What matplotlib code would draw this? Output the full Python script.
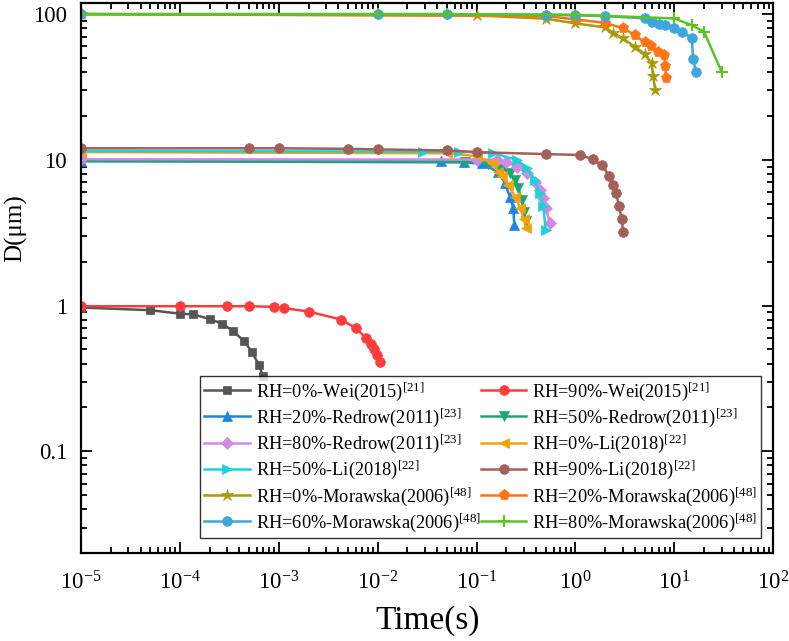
import matplotlib
matplotlib.use("Agg")
import matplotlib.pyplot as plt
from matplotlib.ticker import LogLocator, FuncFormatter, NullFormatter
import numpy as np

plt.rcParams['font.family'] = ['Liberation Serif', 'DejaVu Serif']
plt.rcParams['mathtext.fontset'] = 'custom'
plt.rcParams['mathtext.rm'] = 'Liberation Serif'
plt.rcParams['mathtext.it'] = 'Liberation Serif:italic'
plt.rcParams['mathtext.bf'] = 'Liberation Serif:bold'
plt.rcParams['axes.unicode_minus'] = False

# data (time in s, diameter in um)
wei0_t = [1e-5, 5e-5, 1e-4, 1.35e-4, 2e-4, 2.67e-4, 3.44e-4, 4.45e-4, 5.36e-4, 6.3e-4, 6.9e-4]
wei0_d = [0.97, 0.93, 0.88, 0.87, 0.81, 0.75, 0.67, 0.57, 0.48, 0.39, 0.33]

wei90_t = [1e-5, 1e-4, 3e-4, 5e-4, 9e-4, 1.13e-3, 2e-3, 4.3e-3, 6e-3, 7.6e-3, 8.5e-3, 9.2e-3, 9.9e-3, 1.05e-2]
wei90_d = [0.99, 0.99, 0.99, 0.99, 0.98, 0.96, 0.91, 0.80, 0.70, 0.60, 0.545, 0.50, 0.455, 0.41]

red20_t = [1e-5, 0.044, 0.075, 0.113, 0.166, 0.194, 0.218, 0.235, 0.241]
red20_d = [9.8, 9.8, 9.7, 9.5, 8.2, 6.9, 5.55, 4.67, 3.6]

red50_t = [1e-5, 0.076, 0.13, 0.18, 0.22, 0.245, 0.265, 0.286, 0.302, 0.316]
red50_d = [9.8, 9.6, 9.3, 8.7, 8.1, 7.3, 6.4, 5.3, 4.4, 3.8]

red80_t = [1e-5, 0.1, 0.16, 0.2, 0.254, 0.321, 0.389, 0.436, 0.473, 0.5, 0.552]
red80_d = [10.1, 10.05, 10.0, 9.6, 9.0, 8.1, 7.1, 6.2, 5.5, 4.7, 3.7]

li0_t = [1e-5, 0.05, 0.1, 0.142, 0.166, 0.179, 0.209, 0.245, 0.275, 0.302, 0.316]
li0_d = [11.3, 11.1, 10.6, 9.5, 8.3, 7.7, 6.7, 5.6, 4.7, 3.9, 3.4]

li50_t = [1e-5, 0.029, 0.066, 0.148, 0.254, 0.321, 0.389, 0.436, 0.473, 0.5]
li50_d = [11.5, 11.4, 11.4, 11.1, 10.0, 8.8, 7.3, 5.9, 4.8, 3.3]

li90_t = [1e-5, 5e-4, 1e-3, 5e-3, 1e-2, 0.05, 0.1, 0.5, 1.1, 1.5, 1.84, 2.2, 2.41, 2.57, 2.77, 2.93, 3.04]
li90_d = [12.0, 12.0, 12.0, 11.9, 11.8, 11.6, 11.3, 10.95, 10.8, 10.1, 9.2, 7.8, 6.75, 5.9, 4.8, 3.9, 3.2]

mor0_t = [1e-5, 0.1, 0.5, 1, 2, 2.4, 3, 4, 5, 5.9, 6.1, 6.4]
mor0_d = [100, 98, 93, 86.4, 81, 74.5, 68.2, 59.7, 53.2, 45.9, 37.6, 30.2]

mor20_t = [1e-5, 0.5, 1, 2, 3, 4, 5, 5.8, 6.9, 7.85, 8.1, 8.2]
mor20_d = [100, 97, 92, 87, 80, 72, 64, 60.7, 55.2, 52.4, 44, 36.3]

mor60_t = [1e-5, 0.01, 0.05, 0.5, 1, 2, 5, 6, 7, 8, 10, 12, 15, 15.5, 16.5]
mor60_d = [100, 100, 100, 99, 98, 97, 93.4, 88.6, 85.4, 84, 79.8, 74.9, 68.8, 48.9, 40.3]

mor80_t = [1e-5, 0.01, 0.05, 1, 10, 15, 20, 30]
mor80_d = [100, 100, 100, 99, 93.4, 84, 75.6, 40.3]

labels = [
    'RH=0%-Wei(2015)$^{[21]}$', 'RH=90%-Wei(2015)$^{[21]}$',
    'RH=20%-Redrow(2011)$^{[23]}$', 'RH=50%-Redrow(2011)$^{[23]}$',
    'RH=80%-Redrow(2011)$^{[23]}$', 'RH=0%-Li(2018)$^{[22]}$',
    'RH=50%-Li(2018)$^{[22]}$', 'RH=90%-Li(2018)$^{[22]}$',
    'RH=0%-Morawska(2006)$^{[48]}$', 'RH=20%-Morawska(2006)$^{[48]}$',
    'RH=60%-Morawska(2006)$^{[48]}$', 'RH=80%-Morawska(2006)$^{[48]}$',
]
series = [(wei0_t, wei0_d), (wei90_t, wei90_d), (red20_t, red20_d), (red50_t, red50_d),
          (red80_t, red80_d), (li0_t, li0_d), (li50_t, li50_d), (li90_t, li90_d),
          (mor0_t, mor0_d), (mor20_t, mor20_d), (mor60_t, mor60_d), (mor80_t, mor80_d)]
colors = ['#555555', '#ff3c3c', '#1a86e6', '#1aa872', '#d08ae6', '#f2a20c',
          '#1cd2d8', '#a35f5a', '#a69b0a', '#ff7414', '#3fa6dc', '#5cc41e']
markers = ['s', 'o', '^', 'v', 'D', '<', '>', 'o', '*', 'p', 'o', '+']
msizes = [6, 7, 7, 7, 6, 7, 7, 7, 9, 8, 7, 9]

fig = plt.figure(figsize=(7.89, 6.41), dpi=100)
ax = fig.add_axes([0.1027, 0.137, 0.8773, 0.859])

handles = []
for (t, d), lab, c, m, ms in zip(series, labels, colors, markers, msizes):
    h, = ax.plot(t, d, color=c, marker=m, ms=ms, lw=1.8, label=lab,
                 markeredgewidth=1.5 if m == '+' else 0.5, markeredgecolor=c)
    handles.append(h)

ax.set_xscale('log')
ax.set_yscale('log')
ax.set_xlim(1e-5, 1e2)
ax.set_ylim(0.02, 120)

ax.xaxis.set_major_locator(LogLocator(base=10, numticks=20))
ax.xaxis.set_minor_locator(LogLocator(base=10, subs=np.arange(2, 10), numticks=20))
ax.yaxis.set_major_locator(LogLocator(base=10, numticks=20))
ax.yaxis.set_minor_locator(LogLocator(base=10, subs=np.arange(2, 10), numticks=20))
ax.xaxis.set_minor_formatter(NullFormatter())
ax.yaxis.set_minor_formatter(NullFormatter())
ax.yaxis.set_major_formatter(FuncFormatter(lambda v, p: ('%g' % v)))

ax.tick_params(which='both', direction='in', top=True, right=True, labelsize=16.5, width=1.3)
ax.tick_params(which='major', length=8)
ax.tick_params(which='minor', length=4.5)
ax.tick_params(axis='x', pad=13)
ax.tick_params(axis='y', pad=10)
for s in ax.spines.values():
    s.set_linewidth(1.6)

ax.set_xlabel('Time(s)', fontsize=24, labelpad=8)
ax.set_ylabel('D(μm)', fontsize=18)
ax.yaxis.set_label_coords(-0.078, 0.59)

# legend filled row by row like the original
order = list(range(0, 12, 2)) + list(range(1, 12, 2))
leg = ax.legend([handles[i] for i in order], [labels[i] for i in order],
                ncol=2, loc='lower right', bbox_to_anchor=(0.983, 0.027), borderaxespad=0,
                fontsize=13.2, frameon=True, fancybox=False, edgecolor='black',
                handlelength=2.5, handletextpad=0.3, columnspacing=0.0, labelspacing=0.2,
                borderpad=0.25)
leg.get_frame().set_linewidth(1.0)

fig.savefig('out.png', dpi=100)
